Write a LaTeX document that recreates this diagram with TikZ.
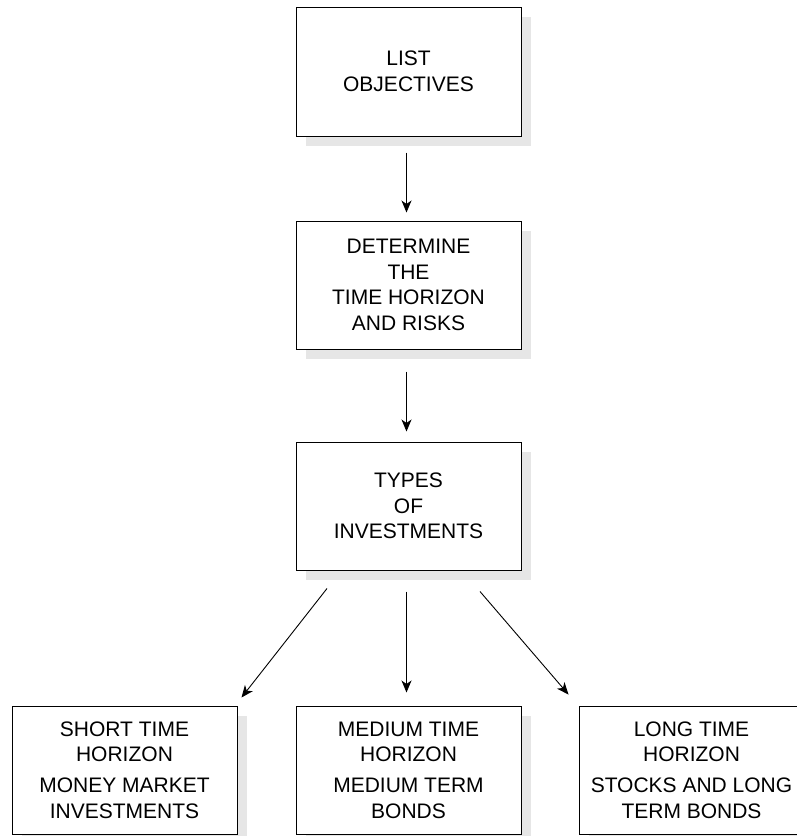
\documentclass[tikz,border=0pt]{standalone}
\usepackage{fontspec}
\setmainfont{Liberation Sans}
\usetikzlibrary{arrows.meta,shadows}
\definecolor{shadowgray}{HTML}{E6E6E6}
\begin{document}
\begin{tikzpicture}[x=1pt,y=-1pt,
  box/.style={draw=black, line width=1pt, fill=white, minimum width=225pt,
    inner sep=0pt, align=center,
    font=\fontsize{21}{25.7}\selectfont,
    drop shadow={shadow xshift=10pt, shadow yshift=-10pt, fill=shadowgray, opacity=1}},
  flow/.style={line width=0.9pt, -{Stealth[length=12pt,width=10pt,inset=3.5pt]}}]
\useasboundingbox (0,0) rectangle (797,836);
\begin{scope}
\clip (0,0) rectangle (797,836);
% main column
\node[box, minimum height=129pt] (obj) at (408.5,71.5) {LIST\\OBJECTIVES};
\node[box, minimum height=128pt] (hor) at (408.5,285) {DETERMINE\\THE\\TIME HORIZON\\AND RISKS};
\node[box, minimum height=128pt] (typ) at (408.5,506) {TYPES\\OF\\INVESTMENTS};
% investment choices
\node[box, minimum height=128pt] (short) at (124.5,770) {SHORT TIME\\HORIZON\\[5pt]MONEY MARKET\\INVESTMENTS};
\node[box, minimum height=128pt] (medium) at (408.5,770) {MEDIUM TIME\\HORIZON\\[5pt]MEDIUM TERM\\BONDS};
\node[box, minimum height=128pt] (long) at (691.5,770) {LONG TIME\\HORIZON\\[5pt]STOCKS AND LONG\\TERM BONDS};
% connectors (canvas shifts: negative yshift goes down the page)
\draw[flow] ([xshift=-2pt,yshift=-16pt]obj.south) -- ([xshift=-2pt,yshift=8pt]hor.north);
\draw[flow] ([xshift=-2pt,yshift=-22pt]hor.south) -- ([xshift=-2pt,yshift=10pt]typ.north);
\draw[flow] ([xshift=-81.5pt,yshift=-18pt]typ.south) -- ([xshift=4pt,yshift=8pt]short.north east);
\draw[flow] ([xshift=-2pt,yshift=-21pt]typ.south) -- ([xshift=-2pt,yshift=13pt]medium.north);
\draw[flow] ([xshift=71.5pt,yshift=-21pt]typ.south) -- ([xshift=-10pt,yshift=11pt]long.north west);
\end{scope}
\end{tikzpicture}
\end{document}
